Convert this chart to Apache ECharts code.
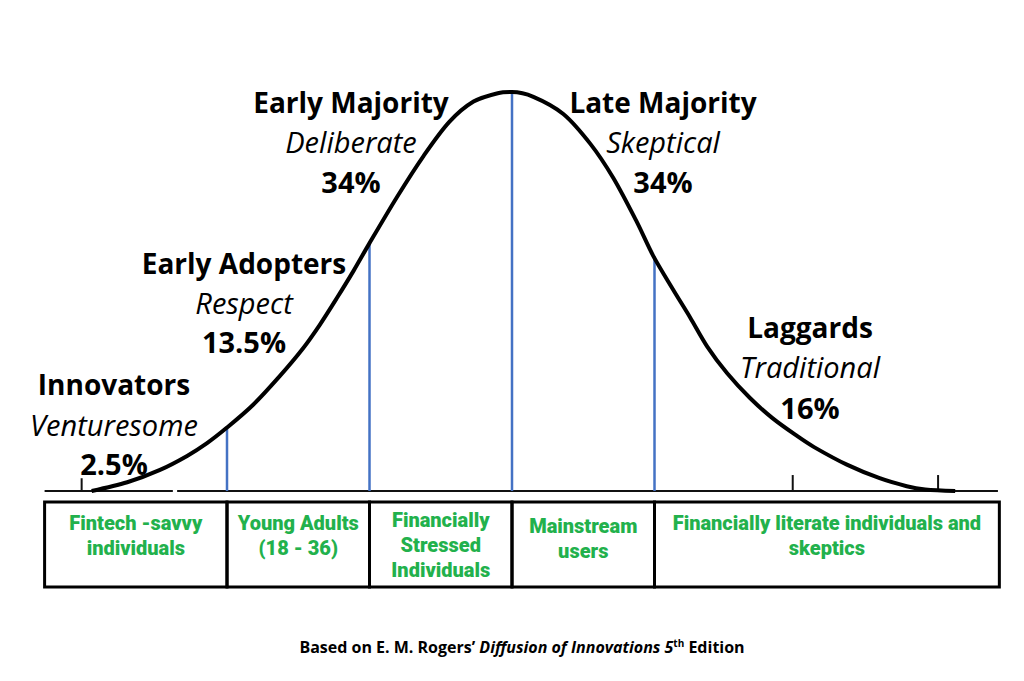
<!DOCTYPE html>
<html>
<head>
<meta charset="utf-8">
<script src="https://cdn.jsdelivr.net/npm/echarts@6/dist/echarts.min.js"></script>
<style>
html,body{margin:0;padding:0;background:#fff;}
#chart{width:1024px;height:681px;}
</style>
</head>
<body>
<div id="chart"></div>
<script>
// ---- data (x in standard deviations from the mean, y in % of peak height) ----
const curveX = [-2.95, -2.70, -2.47, -2.28, -2.14, -2.00, -1.82, -1.63, -1.47, -1.35, -1.23, -1.11, -1.01, -0.81, -0.62, -0.44, -0.27, -0.10, 0.00, 0.15, 0.36, 0.55, 0.71, 0.875, 0.99, 1.13, 1.25, 1.37, 1.51, 1.67, 1.83, 2.00, 2.12, 2.35, 2.58, 2.77, 2.90, 3.11];
const curveY = [0, 2.2, 5.3, 8.8, 12.0, 15.9, 21.5, 28.8, 35.6, 41.6, 48.3, 55.3, 61.5, 73.5, 84.0, 92.5, 97.6, 99.7, 100, 98.8, 94.5, 87.0, 78.5, 67.5, 59.0, 50.5, 43.5, 36.2, 29.5, 23.3, 18.2, 13.8, 11.0, 6.6, 3.2, 1.2, 0.4, 0];
const dividerX = [-2, -1, 0, 1];
const dividerTop = [15.9, 61.8, 100, 58.8];
const tickX = [-3.02, 1.97, 2.99];
const tickTop = [3.2, 4.0, 4.0];
const baselineStart = [-3.28, -2.35];
const baselineEnd = [-2.38, 3.41];
const segmentEdges = [-3.28, -2, -1, 0, 1, 3.42];
const segmentLabels = ['Fintech -savvy\nindividuals', 'Young Adults\n(18 - 36)', 'Financially\nStressed\nIndividuals', 'Mainstream\nusers', 'Financially literate individuals and\nskeptics'];
const adopterNames = ['Innovators', 'Early Adopters', 'Early Majority', 'Late Majority', 'Laggards'];
const adopterTraits = ['Venturesome', 'Respect', 'Deliberate', 'Skeptical', 'Traditional'];
const adopterShares = ['2.5%', '13.5%', '34%', '34%', '16%'];

// ---- layout (pixel centers of the three annotation lines; table text top offsets) ----
const annotLayout = [
  {x: 114, y: [384, 424, 463]},
  {x: 244, y: [263, 302, 341]},
  {x: 351, y: [102, 141, 181]},
  {x: 663, y: [102, 141, 181]},
  {x: 810, y: [327, 366, 407]}
];
const cellTextTop = [8, 8, 5, 11, 8];
const GREEN = '#22b14c';
const BLUE = '#4472c4';
const TXT = "'Open Sans', 'Noto Sans', sans-serif";
const NARROW = "Roboto, 'Liberation Sans', sans-serif";

const curveData = curveX.map((x, i) => [x, curveY[i]]);
const dividerData = dividerX.map((x, i) => [x, dividerTop[i]]);
const tickData = tickX.map((x, i) => [x, tickTop[i]]);
const baselineData = baselineStart.map((x, i) => [x, baselineEnd[i]]);
const segData = segmentLabels.map((l, i) => [segmentEdges[i], segmentEdges[i + 1]]);

function vline(color, width) {
  return function (params, api) {
    const a = api.coord([api.value(0), 0]);
    const b = api.coord([api.value(0), api.value(1)]);
    return {type: 'line', shape: {x1: a[0], y1: a[1], x2: b[0], y2: b[1]}, style: {stroke: color, lineWidth: width}};
  };
}

const graphics = [];
annotLayout.forEach((p, i) => {
  graphics.push({type: 'text', x: p.x, y: p.y[0], style: {text: adopterNames[i], font: "bold 28px " + TXT, fill: '#000', align: 'center', verticalAlign: 'middle'}});
  graphics.push({type: 'text', x: p.x, y: p.y[1], style: {text: adopterTraits[i], font: "italic 29px " + TXT, fill: '#000', align: 'center', verticalAlign: 'middle'}});
  graphics.push({type: 'text', x: p.x, y: p.y[2], style: {text: adopterShares[i], font: "bold 29px " + TXT, fill: '#000', align: 'center', verticalAlign: 'middle'}});
});
graphics.push({
  type: 'text', x: 522, y: 647,
  style: {
    text: "{b|Based on E. M. Rogers\u2019 }{bi|Diffusion of Innovations 5}{sup|th}{b| Edition}",
    align: 'center', verticalAlign: 'middle',
    rich: {
      b: {font: "bold 16px " + TXT, fill: '#000'},
      bi: {font: "italic bold 16px " + TXT, fill: '#000'},
      sup: {font: "bold 10px " + TXT, fill: '#000', verticalAlign: 'top', padding: [0, 0, 9, 0]}
    }
  }
});

const chart = echarts.init(document.getElementById('chart'), null, {renderer: 'svg'});
const xr = {min: -3.3, max: 3.43};
chart.setOption({
  animation: false,
  backgroundColor: '#fff',
  grid: [
    {left: 41.75, right: 23.22, top: 92, bottom: 190},
    {left: 41.75, right: 23.22, top: 502, bottom: 94}
  ],
  xAxis: [
    {type: 'value', gridIndex: 0, min: xr.min, max: xr.max, show: false},
    {type: 'value', gridIndex: 1, min: xr.min, max: xr.max, show: false}
  ],
  yAxis: [
    {type: 'value', gridIndex: 0, min: 0, max: 100, show: false},
    {type: 'value', gridIndex: 1, min: 0, max: 1, show: false}
  ],
  series: [
    {
      type: 'custom', xAxisIndex: 0, yAxisIndex: 0, clip: false, z: 1,
      data: baselineData,
      renderItem: function (params, api) {
        const a = api.coord([api.value(0), 0]);
        const b = api.coord([api.value(1), 0]);
        return {type: 'line', shape: {x1: a[0], y1: a[1], x2: b[0], y2: b[1]}, style: {stroke: '#111', lineWidth: 2}};
      }
    },
    {type: 'custom', xAxisIndex: 0, yAxisIndex: 0, clip: false, z: 2, data: dividerData, renderItem: vline(BLUE, 2.5)},
    {type: 'custom', xAxisIndex: 0, yAxisIndex: 0, clip: false, z: 2, data: tickData, renderItem: vline('#111', 2)},
    {
      type: 'line', xAxisIndex: 0, yAxisIndex: 0, data: curveData, smooth: 0.3, symbol: 'none', clip: false, z: 3,
      lineStyle: {color: '#000', width: 4}
    },
    {
      type: 'custom', xAxisIndex: 1, yAxisIndex: 1, clip: false, z: 4,
      data: segData,
      renderItem: function (params, api) {
        const p0 = api.coord([api.value(0), 1]);
        const p1 = api.coord([api.value(1), 0]);
        return {
          type: 'group',
          children: [
            {type: 'rect', shape: {x: p0[0], y: p0[1], width: p1[0] - p0[0], height: p1[1] - p0[1]}, style: {fill: 'none', stroke: '#000', lineWidth: 3}},
            {type: 'text', style: {text: segmentLabels[params.dataIndex], x: (p0[0] + p1[0]) / 2, y: p0[1] + cellTextTop[params.dataIndex], align: 'center', verticalAlign: 'top', fill: GREEN, font: "900 20px " + NARROW, lineHeight: 25}}
          ]
        };
      }
    }
  ],
  graphic: graphics
});
</script>
</body>
</html>
